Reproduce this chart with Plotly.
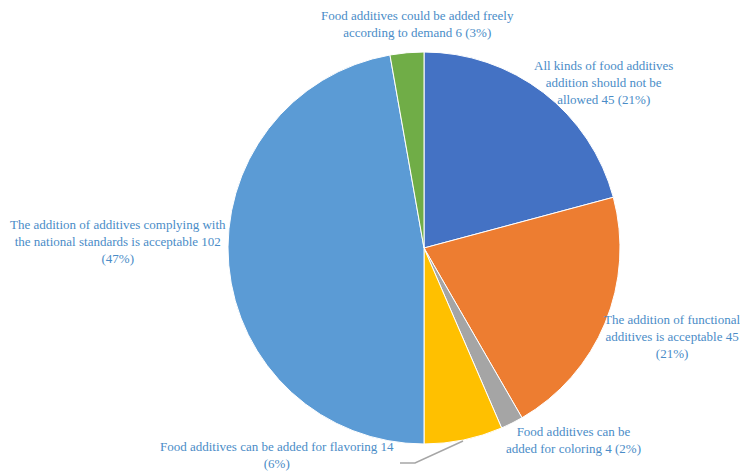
import plotly.graph_objects as go

W, H = 740, 472

categories = [
    "All kinds of food additives<br>addition should not be<br>allowed",
    "The addition of functional<br>additives is acceptable",
    "Food additives can be<br>added for coloring",
    "Food additives can be added for flavoring",
    "The addition of additives complying with<br>the national standards is acceptable",
    "Food additives could be added freely<br>according to demand",
]
values = [45, 45, 4, 14, 102, 6]
percents = ["21%", "21%", "2%", "6%", "47%", "3%"]
colors = ["#4472C4", "#ED7D31", "#A5A5A5", "#FFC000", "#5B9BD5", "#70AD47"]

label_texts = [
    "All kinds of food additives<br>addition should not be<br>allowed 45 (21%)",
    "The addition of functional<br>additives is acceptable 45<br>(21%)",
    "Food additives can be<br>added for coloring 4 (2%)",
    "Food additives can be added for flavoring 14<br>(6%)",
    "The addition of additives complying with<br>the national standards is acceptable 102<br>(47%)",
    "Food additives could be added freely<br>according to demand 6 (3%)",
]
# label centres in pixels (x, y from top)
label_pos = [(603, 83), (672, 336), (573, 440), (277, 455), (118, 242), (417, 24)]

cx, cy, r = 424, 248, 196

fig = go.Figure(go.Pie(
    labels=categories,
    values=values,
    marker=dict(colors=colors, line=dict(color="white", width=1)),
    sort=False,
    direction="clockwise",
    rotation=0,
    textinfo="none",
    hoverinfo="label+value+percent",
    showlegend=False,
    domain=dict(x=[(cx - r) / W, (cx + r) / W], y=[(H - cy - r) / H, (H - cy + r) / H]),
))

for t, (px, py) in zip(label_texts, label_pos):
    fig.add_annotation(
        x=px / W, y=1 - py / H, xref="paper", yref="paper",
        text=t, showarrow=False, xanchor="center", yanchor="middle",
        align="center",
        font=dict(family="Liberation Serif", size=13, color="#4A8CC7"),
    )

# leader line for flavoring slice
fig.add_shape(type="path", xref="paper", yref="paper",
              path=f"M {463/W} {1-441/H} L {415/W} {1-463/H} L {400/W} {1-463/H}",
              line=dict(color="#A6A6A6", width=1.5))

fig.update_layout(
    width=W, height=H,
    margin=dict(l=0, r=0, t=0, b=0),
    paper_bgcolor="white", plot_bgcolor="white",
    font=dict(family="Liberation Serif"),
)

fig.write_html("out.html")
